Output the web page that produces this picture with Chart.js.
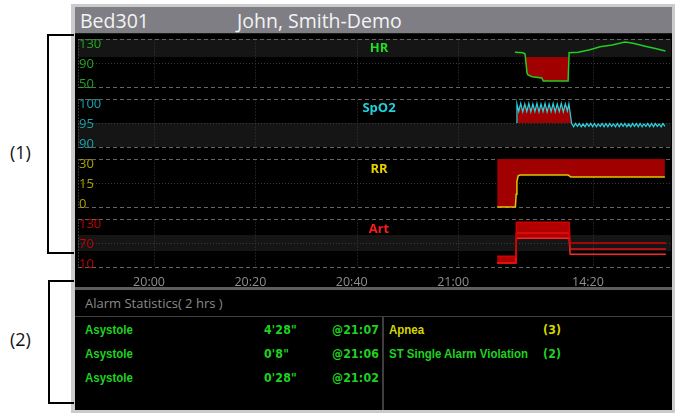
<!DOCTYPE html>
<html>
<head>
<meta charset="utf-8">
<title>Bed301 trend review</title>
<script src="https://cdn.jsdelivr.net/npm/chart.js@4.4.1/dist/chart.umd.min.js"></script>
<style>
  html, body { margin:0; padding:0; width:675px; height:414px; overflow:hidden; background:#fff;
               font-family:"Open Sans","Noto Sans",sans-serif; }
  .abs { position:absolute; }
  #frame   { left:71px; top:4px; width:604px; height:409px; background:#cbcbcb; }
  #screen  { left:75px; top:7px; width:597px; height:403px; background:#000; }
  #header  { left:75px; top:7px; width:597px; height:26px; background:#7e7e84; border-bottom:1px solid #1c1c1c;
             color:#f3f3f3; font-size:19.5px; line-height:26px; }
  #header span { position:absolute; top:1px; white-space:nowrap; }
  #graph   { left:72px; top:33px; width:603px; height:255px; }
  .chan    { position:absolute; width:60px; margin-left:-30px; text-align:center; font-weight:bold;
             font-size:13px; line-height:14px; z-index:3; }
  #sep     { left:75px; top:287px; width:597px; height:3px; background:#5e5e5e; z-index:3; }
  #statTitle { left:85px; top:293px; font-size:13px; color:#8a8a8a; line-height:20px; white-space:nowrap; }
  #statRule  { left:75px; top:316px; width:597px; height:1px; background:#3e3e3e; }
  #statDiv   { left:382px; top:317px; width:2px; height:93px; background:#3e3e3e; }
  .row  { position:absolute; height:24px; line-height:24px; white-space:nowrap; font-weight:bold;
          font-family:"Liberation Sans","Arial",sans-serif; font-size:13.5px;
          transform:scaleX(0.85); transform-origin:0 50%; }
  .row.num { font-family:"DejaVu Sans","Open Sans",sans-serif; font-size:12.5px; letter-spacing:0.2px;
             transform:scaleX(0.88); }
  .green  { color:#1fd21f; }
  .yellow { color:#d6d600; }
  .bracket { position:absolute; border:2px solid #000; border-right:none; box-sizing:border-box; z-index:5; }
  .blabel  { position:absolute; font-size:18px; line-height:24px; color:#111; }
</style>
</head>
<body>
<div id="frame" class="abs"></div>
<div id="screen" class="abs"></div>
<div id="header" class="abs"><span style="left:5px">Bed301</span><span style="left:162px">John, Smith-Demo</span></div>

<div id="graph" class="abs"><canvas id="trend" width="603" height="255"></canvas></div>

<div class="chan" style="left:379px; top:40px; color:#22dd22">HR</div>
<div class="chan" style="left:379px; top:100px; color:#22d0dc">SpO2</div>
<div class="chan" style="left:379px; top:160.5px; color:#e6d200">RR</div>
<div class="chan" style="left:379px; top:220.5px; color:#ff1a1a">Art</div>

<div id="sep" class="abs"></div>
<div id="statTitle" class="abs">Alarm Statistics( 2 hrs )</div>
<div id="statRule" class="abs"></div>
<div id="statDiv" class="abs"></div>

<div class="row green" style="left:85px; top:318px">Asystole</div>
<div class="row green num" style="left:264px; top:318px">4'28"</div>
<div class="row green num" style="left:332px; top:318px">@21:07</div>
<div class="row green" style="left:85px; top:342px">Asystole</div>
<div class="row green num" style="left:264px; top:342px">0'8"</div>
<div class="row green num" style="left:332px; top:342px">@21:06</div>
<div class="row green" style="left:85px; top:366px">Asystole</div>
<div class="row green num" style="left:264px; top:366px">0'28"</div>
<div class="row green num" style="left:332px; top:366px">@21:02</div>

<div class="row yellow" style="left:389px; top:318px">Apnea</div>
<div class="row yellow num" style="left:543px; top:318px">(3)</div>
<div class="row green" style="left:389px; top:342px">ST Single Alarm Violation</div>
<div class="row green num" style="left:543px; top:342px">(2)</div>

<div class="bracket" style="left:47px; top:34px; width:27px; height:220px"></div>
<div class="blabel" style="left:10px; top:140px">(1)</div>
<div class="bracket" style="left:48px; top:280px; width:26px; height:124px"></div>
<div class="blabel" style="left:10px; top:327px">(2)</div>

<script>
// Time is in minutes from the start of the review window (19:45).
const timeTicks  = [15, 35, 55, 75, 101.6];
const timeLabels = ['20:00', '20:20', '20:40', '21:00', '14:20'];

// Scale labels per parameter: top, middle, bottom of each trend panel.
const hrTicks   = [130, 90, 50];
const spo2Ticks = [100, 95, 90];
const rrTicks   = [30, 15, 0];
const artTicks  = [130, 70, 10];

// Shaded ranges and alarm limits.
const hrBand  = [100, 130];
const spo2Band = [90, 95];
const artBand = [50, 90];
const hrLimit   = 100;
const spo2Limit = 95;
const rrLimit   = 30;
const artAlarmEnd = 96.95;

// HR (bpm)
const hrTimes  = [86.2, 87.8, 88.2, 88.6, 88.8, 89.6, 91.5, 91.8, 96.7, 96.9, 98.7, 101.0, 103.0, 105.4, 107.9, 109.5, 111.9, 113.9, 115.9];
const hrValues = [108, 107, 105, 73, 70, 67, 65, 60, 60, 107, 108, 112, 117, 120, 125, 123, 118, 114, 110];

// SpO2 (%)
const spo2Times = [86.45, 86.6, 86.95, 87.35, 87.75, 88.15, 88.55, 88.95, 89.35, 89.75, 90.15, 90.55, 90.95, 91.35, 91.75,
  92.15, 92.55, 92.95, 93.35, 93.75, 94.15, 94.55, 94.95, 95.35, 95.75, 96.15, 96.55, 96.85,
  97.4, 97.8, 98.15, 98.55, 98.9, 99.3, 99.65, 100.05, 100.4, 100.8, 101.15, 101.55, 101.9, 102.3, 102.65, 103.05,
  103.4, 103.8, 104.15, 104.55, 104.9, 105.3, 105.65, 106.05, 106.4, 106.8, 107.15, 107.55, 107.9, 108.3, 108.65,
  109.05, 109.4, 109.8, 110.15, 110.55, 110.9, 111.3, 111.65, 112.05, 112.4, 112.8, 113.15, 113.55, 113.9, 114.3,
  114.65, 115.05, 115.4, 115.8];
const spo2Values = [95.1, 99.0, 97.4, 99.1, 97.3, 99.0, 97.4, 99.1, 97.3, 99.0, 97.4, 99.1, 97.3, 99.0, 97.4,
  99.1, 97.3, 99.0, 97.4, 99.1, 97.3, 99.0, 97.4, 99.1, 97.3, 99.0, 97.5, 99.0,
  94.9, 94.2, 94.9, 94.3, 94.9, 94.2, 94.8, 94.2, 94.9, 94.3, 94.9, 94.2, 94.9, 94.2, 94.8, 94.3,
  94.9, 94.2, 94.9, 94.2, 94.9, 94.3, 94.8, 94.2, 94.9, 94.2, 94.9, 94.3, 94.9, 94.2, 94.8,
  94.2, 94.9, 94.3, 94.9, 94.2, 94.9, 94.2, 94.8, 94.3, 94.9, 94.2, 94.9, 94.2, 94.9, 94.3,
  94.8, 94.2, 94.9, 94.3];

// RR (rpm)
const rrTimes  = [82.7, 86.3, 86.45, 86.6, 86.85, 87.2, 96.7, 97.2, 115.8];
const rrValues = [0, 0, 8, 16, 19.5, 20, 20, 18.8, 18.8];

// Arterial pressure (mmHg)
const artTimes = [82.7, 86.4, 86.5, 96.9, 97.1, 116.0];
const artSys   = [37, 37, 122, 122, 70, 70];
const artMean  = [20, 20, 95, 95, 55, 55];
const artDia   = [20, 20, 82, 82, 42, 42];

const alarmFill = '#a00000';
const panels = [
  { id: 'yHR',   ticks: hrTicks,   band: hrBand,   color: '#22a622', weight: 4 },
  { id: 'ySpO2', ticks: spo2Ticks, band: spo2Band, color: '#16a2ac', weight: 3 },
  { id: 'yRR',   ticks: rrTicks,   band: null,     color: '#aca200', weight: 2 },
  { id: 'yArt',  ticks: artTicks,  band: artBand,  color: '#c40000', weight: 1 }
];
const PANEL_PX = 48;   // panel height inside each 60px slot

function panelScale(p) {
  const [hi, mid, lo] = p.ticks;
  const span = hi - lo;
  const perPx = span / PANEL_PX;
  return {
    type: 'linear', position: 'left', stack: 'trend', stackWeight: 1, weight: p.weight,
    min: lo - span * 0.125, max: hi + span * 0.125,
    grid: { display: false, drawTicks: false }, border: { display: false },
    ticks: {
      mirror: true, padding: 1, autoSkip: false, color: p.color,
      font: { family: 'Open Sans', size: 13 },
      callback: (v, i) => String(p.ticks[i])
    },
    afterBuildTicks: s => {
      s.ticks = [{ value: hi - 5.5 * perPx }, { value: mid - 1 * perPx }, { value: lo + 3 * perPx }];
    },
    afterFit: s => { s.width = 0; s.paddingTop = 0; s.paddingBottom = 0; }
  };
}

const panelGrid = {
  id: 'panelGrid',
  beforeDraw(chart) {
    const { ctx, chartArea: { left, right } } = chart;
    const xs = chart.scales.x;
    ctx.save();
    panels.forEach(p => {
      const ys = chart.scales[p.id];
      const [hi, mid, lo] = p.ticks;
      const top = Math.round(ys.getPixelForValue(hi)) + 0.5;
      const bottom = Math.round(ys.getPixelForValue(lo)) + 0.5;
      const middle = Math.round(ys.getPixelForValue(mid)) + 0.5;
      if (p.band) {
        const b0 = ys.getPixelForValue(p.band[1]);
        const b1 = ys.getPixelForValue(p.band[0]);
        ctx.fillStyle = '#151515';
        ctx.fillRect(left, b0, right - left, b1 - b0);
      }
      ctx.lineWidth = 1;
      ctx.setLineDash([1, 2]);
      ctx.strokeStyle = '#3a3a3a';
      ctx.beginPath();
      timeTicks.forEach(t => {
        const x = Math.round(xs.getPixelForValue(t)) + 0.5;
        ctx.moveTo(x, top); ctx.lineTo(x, bottom);
      });
      ctx.moveTo(left, middle); ctx.lineTo(right, middle);
      ctx.stroke();
      ctx.strokeStyle = '#6a6a6a';
      ctx.beginPath();
      ctx.moveTo(left + 0.5, top); ctx.lineTo(left + 0.5, bottom);
      ctx.stroke();
      ctx.setLineDash([4, 3]);
      ctx.strokeStyle = '#646464';
      ctx.beginPath();
      ctx.moveTo(left, top); ctx.lineTo(right, top);
      ctx.moveTo(left, bottom); ctx.lineTo(right, bottom);
      ctx.stroke();
    });
    ctx.restore();
  }
};

const series = (label, axis, xs, ys, color, width, extra) => Object.assign({
  label, yAxisID: axis, data: xs.map((x, i) => ({ x, y: ys[i] })),
  borderColor: color, borderWidth: width, pointRadius: 0, tension: 0, fill: false
}, extra || {});

const scales = {
  x: {
    type: 'linear', min: 0, max: 117, position: 'bottom',
    grid: { display: false, drawTicks: false }, border: { display: false },
    ticks: {
      color: '#8e8e8e', font: { family: 'Open Sans', size: 12.5 }, padding: 1.5,
      labelOffset: -5, maxRotation: 0, autoSkip: false,
      callback: (v, i) => timeLabels[i]
    },
    afterBuildTicks: s => { s.ticks = timeTicks.map(v => ({ value: v })); },
    afterFit: s => { s.height = 14; s.paddingLeft = 0; s.paddingRight = 0; }
  }
};
panels.forEach(p => { scales[p.id] = panelScale(p); });

new Chart(document.getElementById('trend'), {
  type: 'line',
  data: {
    datasets: [
      series('HR', 'yHR', hrTimes, hrValues, '#22cc22', 1.5,
        { fill: { target: { value: hrLimit }, above: 'rgba(0,0,0,0)', below: alarmFill } }),
      series('SpO2', 'ySpO2', spo2Times, spo2Values, '#2ad0dc', 1.2,
        { fill: { target: { value: spo2Limit }, above: alarmFill, below: 'rgba(0,0,0,0)' } }),
      series('RR', 'yRR', rrTimes, rrValues, '#e2c400', 1.5,
        { fill: { target: { value: rrLimit } }, backgroundColor: alarmFill }),
      series('Art sys', 'yArt', artTimes, artSys, '#d00000', 1.5, {
        fill: '+2', backgroundColor: '#b00000',
        segment: { backgroundColor: c => c.p0.parsed.x < artAlarmEnd ? '#b00000' : 'rgba(0,0,0,0)' }
      }),
      series('Art mean', 'yArt', artTimes, artMean, '#e01010', 1.5),
      series('Art dia', 'yArt', artTimes, artDia, '#ff2424', 1.5)
    ]
  },
  options: {
    responsive: false, animation: false, devicePixelRatio: 1,
    layout: { padding: { left: 6, right: 4, top: 0, bottom: 1 } },
    scales,
    plugins: {
      legend: { display: false }, tooltip: { enabled: false },
      filler: { drawTime: 'beforeDatasetsDraw', propagate: false }
    }
  },
  plugins: [panelGrid]
});
</script>
</body>
</html>
